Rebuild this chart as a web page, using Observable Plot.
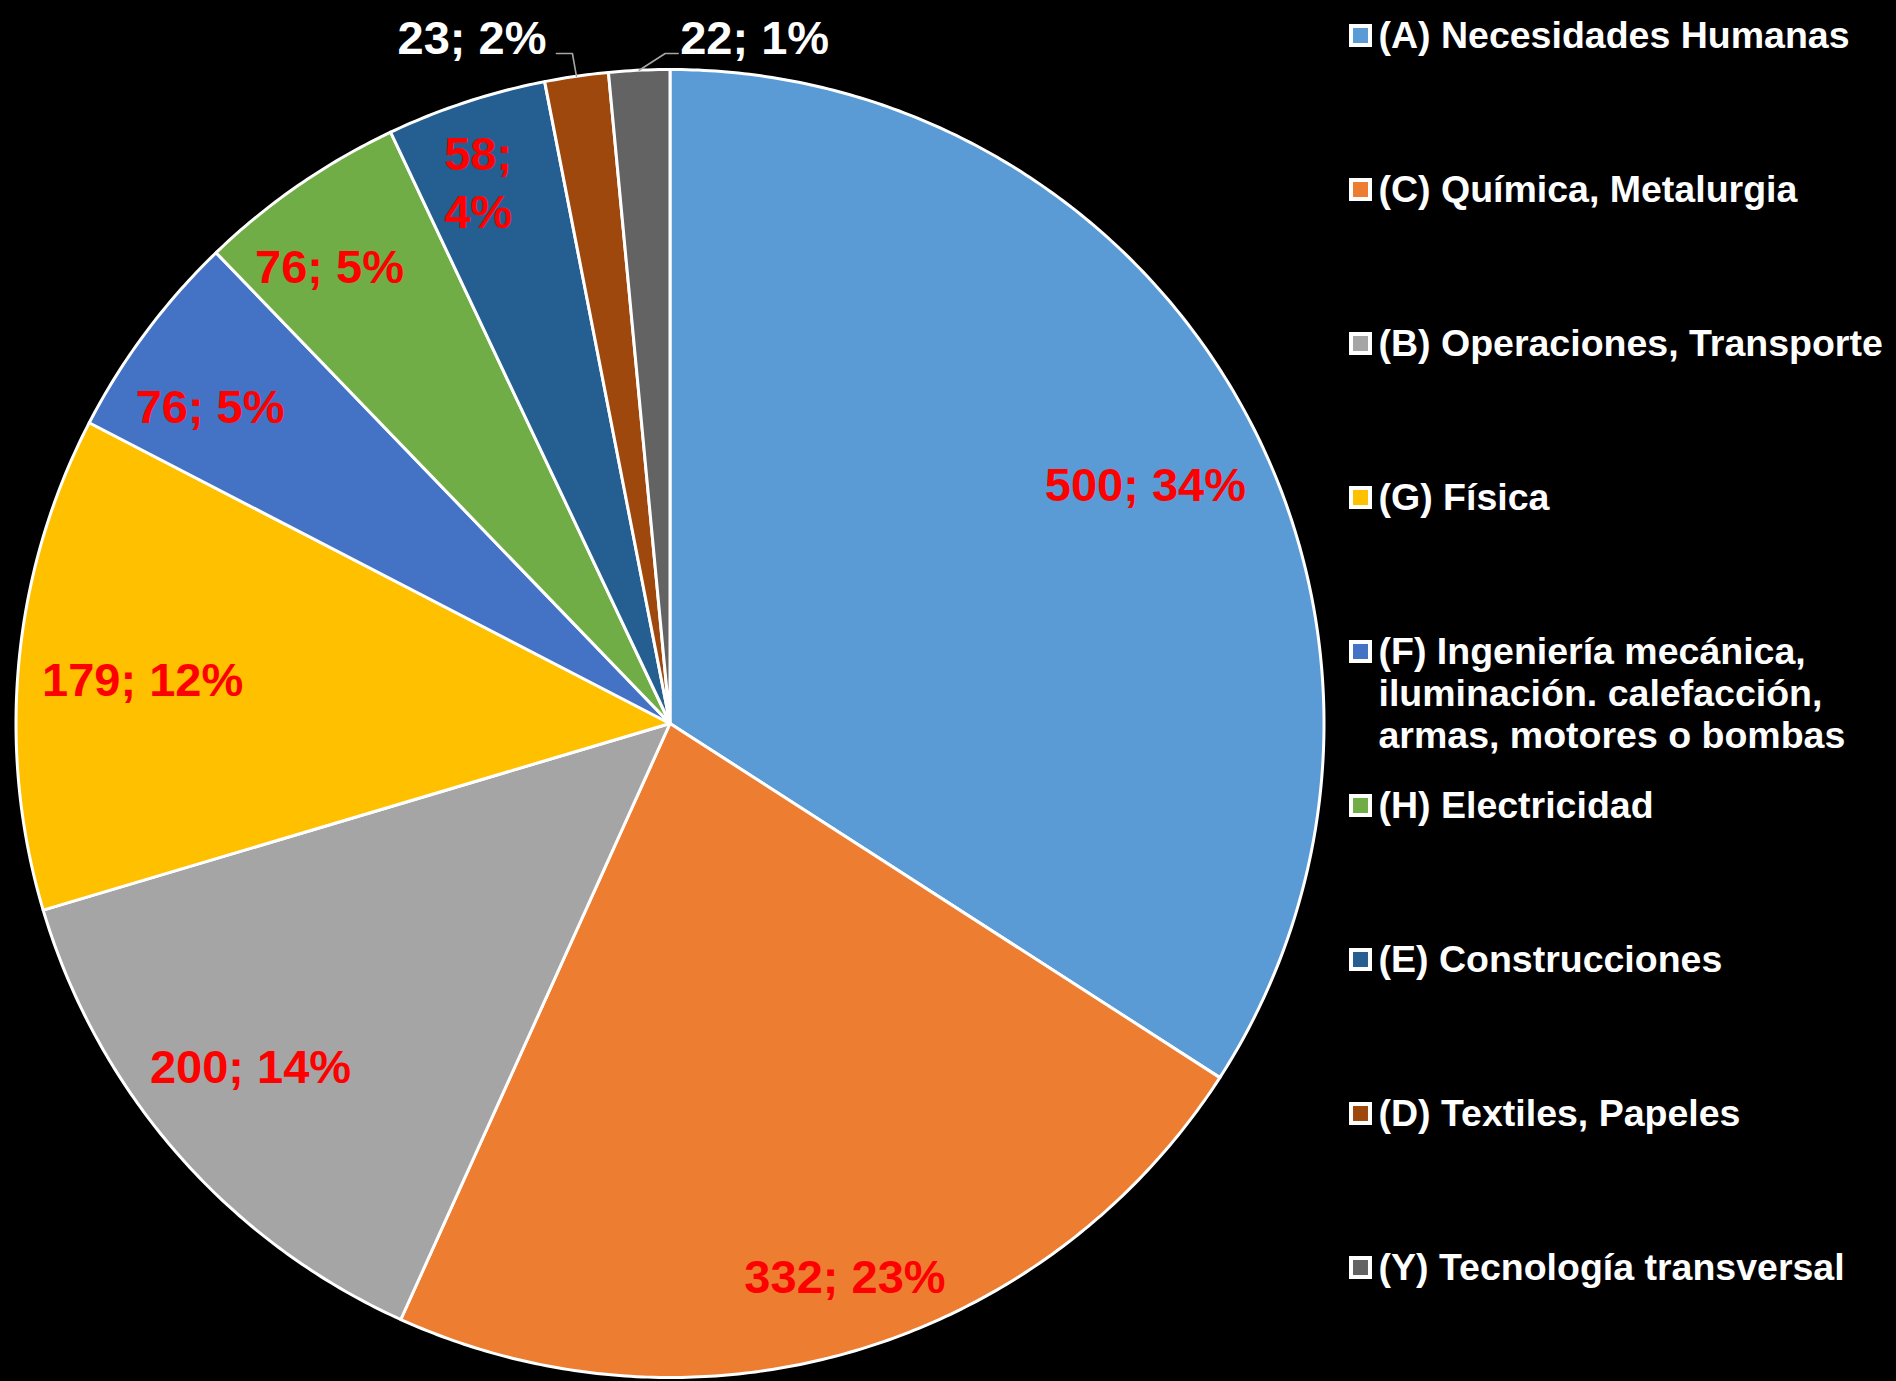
<!DOCTYPE html>
<html>
<head>
<meta charset="utf-8">
<script src="https://cdn.jsdelivr.net/npm/d3@7"></script>
<script src="https://cdn.jsdelivr.net/npm/@observablehq/plot@0.6"></script>
<style>
  html, body { margin: 0; padding: 0; background: #000; }
  #chart { width: 1896px; height: 1381px; overflow: hidden; background: #000; }
</style>
</head>
<body>
<div id="chart"></div>
<script>
// ---------------- data ----------------
const categories = [
  "(A) Necesidades Humanas",
  "(C) Química, Metalurgia",
  "(B) Operaciones, Transporte",
  "(G) Física",
  "(F) Ingeniería mecánica,\niluminación. calefacción,\narmas, motores o bombas",
  "(H) Electricidad",
  "(E) Construcciones",
  "(D) Textiles, Papeles",
  "(Y) Tecnología transversal"
];
const values = [500, 332, 200, 179, 76, 76, 58, 23, 22];
const percents = ["34%", "23%", "14%", "12%", "5%", "5%", "4%", "2%", "1%"];
const labels = ["500; 34%", "332; 23%", "200; 14%", "179; 12%", "76; 5%", "76; 5%", "58;\n4%", "23; 2%", "22; 1%"];
const colors = ["#5B9BD5", "#ED7D31", "#A5A5A5", "#FFC000", "#4472C4", "#70AD47", "#255E91", "#9E480E", "#636363"];

// ---------------- layout ----------------
const W = 1896, H = 1381;
const CX = 669.5, CY = 723, R = 654;
const FONT = '"Liberation Sans", Arial, Helvetica, sans-serif';
const FS = 47, LH = 1.234;
const LEG_FS = 37.5, LEG_LH = 1.12;
const KDIR = 0.93; // label direction flattening (best-fit look)
const ux = px => (px - CX) / R;
const uy = py => (CY - py) / R;

const rows = categories.map((c, i) => ({key: c, value: values[i], color: colors[i], label: labels[i]}));
const total = d3.sum(values);
const arcs = d3.pie().sort(null).value(d => d.value).startAngle(0).endAngle(2 * Math.PI)(rows);

// slice polygons (unit circle coordinates)
const slicePts = [];
arcs.forEach(a => {
  const n = Math.max(2, Math.ceil((a.endAngle - a.startAngle) / (Math.PI / 360)));
  slicePts.push({key: a.data.key, color: a.data.color, x: 0, y: 0});
  for (let k = 0; k <= n; k++) {
    const t = a.startAngle + (a.endAngle - a.startAngle) * k / n;
    slicePts.push({key: a.data.key, color: a.data.color, x: Math.sin(t), y: Math.cos(t)});
  }
});

// label placement (best-fit inside: far corner of label box on radius rho)
const ctx = document.createElement("canvas").getContext("2d");
ctx.font = `bold ${FS}px ${FONT}`;
const capH = 0.716 * FS;
const rho = 0.965 * R;
const inside = [], outside = [];
arcs.forEach(a => {
  const mid = (a.startAngle + a.endAngle) / 2;
  const lines = a.data.label.split("\n");
  const w = Math.max(...lines.map(l => ctx.measureText(l).width));
  const h = capH + (lines.length - 1) * LH * FS;
  if (a.data.value / total >= 0.02) {
    let dx = Math.sin(mid), dy = -Math.cos(mid) * KDIR;
    const len = Math.hypot(dx, dy); dx /= len; dy /= len;
    const sx = Math.sign(dx) * w / 2, sy = Math.sign(dy) * h / 2;
    const us = dx * sx + dy * sy;
    const d = -us + Math.sqrt(us * us - (sx * sx + sy * sy) + rho * rho);
    inside.push({x: ux(CX + d * dx), y: uy(CY + d * dy), label: a.data.label});
  } else {
    outside.push({mid, w, label: a.data.label, key: a.data.key});
  }
});

// outside labels with leader lines
const leaderPts = [];
const outLabels = [];
outside.forEach((o, j) => {
  const dir = j === 0 ? -1 : 1;
  const ax = CX + R * Math.sin(o.mid), ay = CY - R * Math.cos(o.mid);
  const ey = CY - R - 16;
  const ex = ax + (dir < 0 ? -4 : 26);
  const tx = ex + dir * (dir < 0 ? 16 : 13);
  leaderPts.push({key: o.key, x: ux(ax), y: uy(ay)});
  leaderPts.push({key: o.key, x: ux(ex), y: uy(ey)});
  leaderPts.push({key: o.key, x: ux(tx), y: uy(ey)});
  const cx = dir < 0 ? tx - 10 - o.w / 2 : tx + 2 + o.w / 2;
  outLabels.push({x: ux(cx), y: uy(CY - R - 34), label: o.label});
});

// legend
const legendRows = categories.map((c, i) => ({
  mx: ux(1360), tx: ux(1378), y: uy(35 + i * 154), label: c, color: colors[i]
}));

const chart = Plot.plot({
  width: W,
  height: H,
  margin: 0,
  style: {background: "#000", fontFamily: FONT},
  x: {domain: [-1, 1], range: [CX - R, CX + R], axis: null},
  y: {domain: [-1, 1], range: [CY + R, CY - R], axis: null},
  color: {type: "identity"},
  marks: [
    Plot.line(slicePts, {
      x: "x", y: "y", z: "key", fill: "color", stroke: "white",
      strokeWidth: 3, strokeLinejoin: "round", curve: "linear-closed"
    }),
    Plot.line(leaderPts, {x: "x", y: "y", z: "key", stroke: "#A6A6A6", strokeWidth: 1.6}),
    Plot.text(inside, {
      x: "x", y: "y", text: "label", fill: "#FF0000",
      fontSize: FS, fontWeight: "bold", lineHeight: LH
    }),
    Plot.text(outLabels, {
      x: "x", y: "y", text: "label", fill: "white",
      fontSize: FS, fontWeight: "bold", lineHeight: LH
    }),
    Plot.dot(legendRows, {
      x: "mx", y: "y", symbol: "square", r: 10.7, fill: "color",
      stroke: "white", strokeWidth: 4
    }),
    Plot.text(legendRows, {
      x: "tx", y: "y", text: "label", fill: "white", textAnchor: "start",
      lineAnchor: "top", lineHeight: LEG_LH, dy: -17,
      fontSize: LEG_FS, fontWeight: "bold"
    })
  ]
});
document.getElementById("chart").appendChild(chart);
</script>
</body>
</html>
